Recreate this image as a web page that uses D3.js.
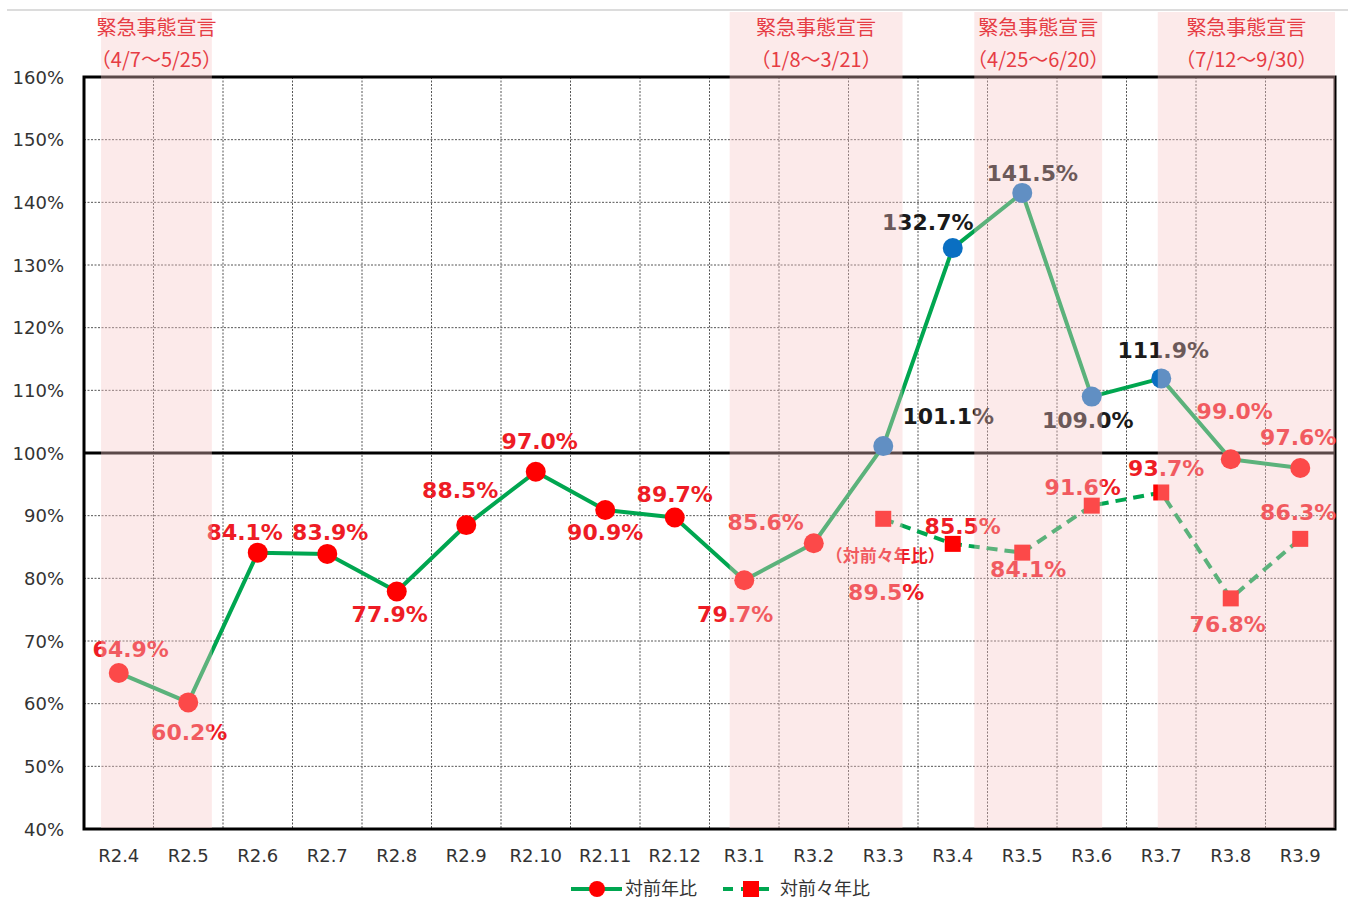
<!DOCTYPE html>
<html>
<head>
<meta charset="utf-8">
<script src="https://cdn.jsdelivr.net/npm/d3@7"></script>
<style>
  html, body { margin: 0; padding: 0; background: #fff; }
  svg { display: block; }
</style>
</head>
<body>
<svg id="chart" width="1348" height="909"></svg>
<script>
// ---- data ----
const categories = ["R2.4","R2.5","R2.6","R2.7","R2.8","R2.9","R2.10","R2.11","R2.12","R3.1","R3.2","R3.3","R3.4","R3.5","R3.6","R3.7","R3.8","R3.9"];
const yoyValues = [64.9,60.2,84.1,83.9,77.9,88.5,97.0,90.9,89.7,79.7,85.6,101.1,132.7,141.5,109.0,111.9,99.0,97.6];
const yoy2Categories = ["R3.3","R3.4","R3.5","R3.6","R3.7","R3.8","R3.9"];
const yoy2Values = [89.5,85.5,84.1,91.6,93.7,76.8,86.3];
const yTicks = [40,50,60,70,80,90,100,110,120,130,140,150,160];
const seriesNames = ["対前年比","対前々年比"];
const emergencyTitle = "緊急事態宣言";
const emergencyRanges = ["（4/7～5/25）","（1/8～3/21）","（4/25～6/20）","（7/12～9/30）"];
// start/end month and fraction of month elapsed (day / days in month)
const emergencyStartCat = ["R2.4","R3.1","R3.4","R3.7"];
const emergencyStartFrac = [0.245,0.29,0.81,0.45];
const emergencyEndCat = ["R2.5","R3.3","R3.6","R3.9"];
const emergencyEndFrac = [0.84,0.777,0.65,1.0];
const yoy2Note = "（対前々年比）";

// ---- label placement (offsets from the point, px) ----
const yoyLabelOff = [[12,-24],[1,30],[-13,-21],[3,-22],[-7,23],[-6,-35],[4,-31],[0,22],[0,-23],[-9,34],[-48,-21],[65,-30],[-25,-26],[10,-20],[-4,23],[2,-28],[4,-48],[-2,-31]];
const yoy2LabelOff = [[3,73],[10,-18],[6,16],[-9,-19],[5,-24],[-3,26],[-2,-27]];

// ---- layout ----
const svg = d3.select("#chart");
const L = 84, R = 1335, T = 77, B = 829;
const x = d3.scaleBand().domain(categories).range([L, R]).paddingInner(0).paddingOuter(0);
const y = d3.scaleLinear().domain([40,160]).range([B, T]);
const cx = c => x(c) + x.bandwidth()/2;

const RED = "#ee1c25", GREEN = "#00a650", BLUE = "#0a6fc2";
const labelFont = "'DejaVu Sans', Verdana, sans-serif";
const jpFont = "'Noto Sans CJK JP', sans-serif";

// top frame line
svg.append("line").attr("x1",7).attr("x2",1348).attr("y1",10).attr("y2",10)
  .attr("stroke","#dcdcdc").attr("stroke-width",2);

// grid
const g = svg.append("g");
g.selectAll("line.hg").data(yTicks.filter(t => t!==40 && t!==160 && t!==100)).join("line")
  .attr("x1",L).attr("x2",R).attr("y1",d=>y(d)).attr("y2",d=>y(d))
  .attr("stroke","#555").attr("stroke-width",1).attr("stroke-dasharray","2,1.5");
g.selectAll("line.vg").data(categories.slice(1)).join("line")
  .attr("x1",d=>x(d)).attr("x2",d=>x(d)).attr("y1",T).attr("y2",B)
  .attr("stroke","#555").attr("stroke-width",1).attr("stroke-dasharray","2,1.5");

// 100% line
g.append("line").attr("x1",L).attr("x2",R).attr("y1",y(100)).attr("y2",y(100))
  .attr("stroke","#000").attr("stroke-width",3);

// border
g.append("rect").attr("x",L).attr("y",T).attr("width",R-L).attr("height",B-T)
  .attr("fill","none").attr("stroke","#000").attr("stroke-width",3);

// y axis
const yAxis = d3.axisLeft(y).tickValues(yTicks).tickFormat(d => d + "%").tickSize(0).tickPadding(20);
const ya = svg.append("g").attr("transform",`translate(${L},0)`).call(yAxis);
ya.select(".domain").remove();
ya.selectAll("text").attr("font-family",labelFont).attr("font-size",18).attr("fill","#333").attr("dy","0.35em");

// x axis
const xAxis = d3.axisBottom(x).tickSize(0).tickPadding(27);
const xa = svg.append("g").attr("transform",`translate(0,${B})`).call(xAxis);
xa.select(".domain").remove();
xa.selectAll("text").attr("font-family",labelFont).attr("font-size",18).attr("fill","#333").attr("dy","0.35em");

// series lines
const line1 = d3.line().x((d,i)=>cx(categories[i])).y(d=>y(d));
svg.append("path").attr("d",line1(yoyValues)).attr("fill","none")
  .attr("stroke",GREEN).attr("stroke-width",4).attr("stroke-linejoin","round");
const line2 = d3.line().x((d,i)=>cx(yoy2Categories[i])).y(d=>y(d));
svg.append("path").attr("d",line2(yoy2Values)).attr("fill","none")
  .attr("stroke",GREEN).attr("stroke-width",4).attr("stroke-dasharray","11,7");

// markers
svg.selectAll("circle.p1").data(yoyValues).join("circle")
  .attr("cx",(d,i)=>cx(categories[i])).attr("cy",d=>y(d)).attr("r",10)
  .attr("fill",d=> d>100 ? BLUE : "#ff0000");
svg.selectAll("rect.p2").data(yoy2Values).join("rect")
  .attr("x",(d,i)=>cx(yoy2Categories[i])-8).attr("y",d=>y(d)-8).attr("width",16).attr("height",16)
  .attr("fill","#ff0000");

// data labels
svg.selectAll("text.l1").data(yoyValues).join("text")
  .attr("x",(d,i)=>cx(categories[i]) + yoyLabelOff[i][0])
  .attr("y",(d,i)=>y(d) + yoyLabelOff[i][1])
  .attr("dy","0.36em").attr("text-anchor","middle")
  .attr("font-family",labelFont).attr("font-weight","bold").attr("font-size",22)
  .attr("fill",d=> d>100 ? "#1a1a1a" : RED)
  .text(d=>d.toFixed(1)+"%");
svg.selectAll("text.l2").data(yoy2Values).join("text")
  .attr("x",(d,i)=>cx(yoy2Categories[i]) + yoy2LabelOff[i][0])
  .attr("y",(d,i)=>y(d) + yoy2LabelOff[i][1])
  .attr("dy","0.36em").attr("text-anchor","middle")
  .attr("font-family",labelFont).attr("font-weight","bold").attr("font-size",22)
  .attr("fill",RED)
  .text(d=>d.toFixed(1)+"%");
svg.append("text").attr("x",cx(yoy2Categories[0])+2).attr("y",y(yoy2Values[0])+37)
  .attr("dy","0.36em").attr("text-anchor","middle")
  .attr("font-family",jpFont).attr("font-weight","bold").attr("font-size",17)
  .attr("fill",RED).text(yoy2Note);

// emergency overlays (drawn on top, translucent)
const shadeX0 = emergencyStartCat.map((c,i)=>x(c) + x.bandwidth()*emergencyStartFrac[i]);
const shadeX1 = emergencyEndCat.map((c,i)=>x(c) + x.bandwidth()*emergencyEndFrac[i]);
svg.selectAll("rect.shade").data(emergencyRanges).join("rect")
  .attr("x",(d,i)=>shadeX0[i]).attr("width",(d,i)=>shadeX1[i]-shadeX0[i])
  .attr("y",12).attr("height",B-1-12)
  .attr("fill","#f8c6c6").attr("opacity",0.37);
svg.selectAll("text.et").data(emergencyRanges).join("text")
  .attr("x",(d,i)=>(shadeX0[i]+shadeX1[i])/2).attr("y",28).attr("dy","0.36em")
  .attr("text-anchor","middle").attr("font-family",jpFont).attr("font-size",20)
  .attr("fill","#e63c44").text(emergencyTitle);
svg.selectAll("text.er").data(emergencyRanges).join("text")
  .attr("x",(d,i)=>(shadeX0[i]+shadeX1[i])/2).attr("y",60).attr("dy","0.36em")
  .attr("text-anchor","middle").attr("font-family",jpFont).attr("font-size",20)
  .attr("fill","#e63c44").text(d=>d);

// legend
const lg = svg.append("g");
lg.append("line").attr("x1",571).attr("x2",622).attr("y1",889).attr("y2",889)
  .attr("stroke",GREEN).attr("stroke-width",4);
lg.append("circle").attr("cx",597).attr("cy",889).attr("r",8).attr("fill","#ff0000");
lg.append("text").attr("x",625).attr("y",889).attr("dy","0.36em")
  .attr("font-family",jpFont).attr("font-size",18).attr("fill","#333").text(seriesNames[0]);
lg.append("line").attr("x1",723).attr("x2",775).attr("y1",889).attr("y2",889)
  .attr("stroke",GREEN).attr("stroke-width",4).attr("stroke-dasharray","10,8");
lg.append("rect").attr("x",743).attr("y",881).attr("width",16).attr("height",16).attr("fill","#ff0000");
lg.append("text").attr("x",780).attr("y",889).attr("dy","0.36em")
  .attr("font-family",jpFont).attr("font-size",18).attr("fill","#333").text(seriesNames[1]);
</script>
</body>
</html>
